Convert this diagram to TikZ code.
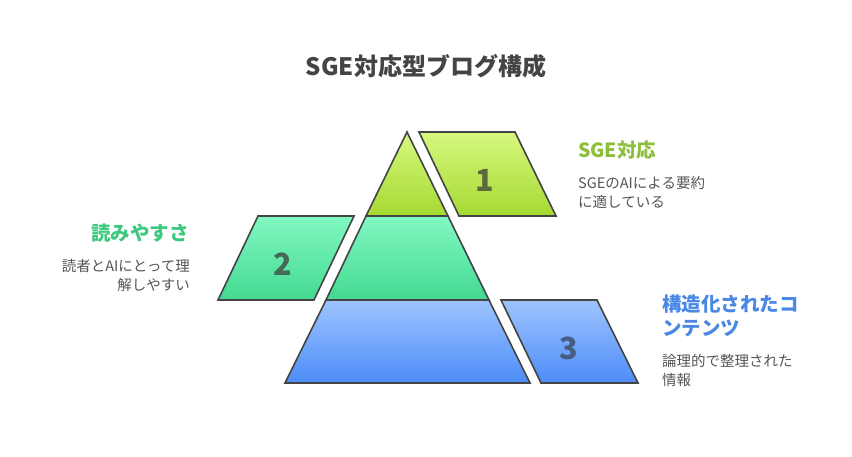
\documentclass[tikz,border=0pt]{standalone}
\usepackage{fontspec}
\setmainfont{Noto Sans CJK JP}
\definecolor{edge}{HTML}{444444}
\definecolor{ink}{HTML}{555555}
\definecolor{limeT}{HTML}{D6F87E}
\definecolor{limeB}{HTML}{A6D932}
\definecolor{mintT}{HTML}{82F8C2}
\definecolor{mintB}{HTML}{43D991}
\definecolor{skyT}{HTML}{9EC4FF}
\definecolor{skyB}{HTML}{4D8CF8}
\definecolor{limeText}{HTML}{8DBE3C}
\definecolor{mintText}{HTML}{3CC97F}
\definecolor{skyText}{HTML}{4A88E6}
\begin{document}
\begin{tikzpicture}[x=1pt, y=-1pt,
	tier/.style={draw=edge, line width=1.6pt},
	num/.style={font=\bfseries\fontsize{30.5}{30.5}\selectfont, inner sep=0pt},
	head/.style={font=\bfseries\fontsize{19.5}{23.5}\selectfont, inner sep=0pt},
	body/.style={font=\fontsize{14.5}{19}\selectfont, text=ink, inner sep=0pt}]
	\useasboundingbox[fill=white] (0,0) rectangle (852,456);
	\node[font=\bfseries\fontsize{24}{24}\selectfont, text=edge] (title) at (426,66) {SGE対応型ブログ構成};
	% pyramid
	\draw[tier, top color=limeT, bottom color=limeB] (407,132) -- (448,216) -- (366,216) -- cycle;
	\draw[tier, top color=mintT, bottom color=mintB] (366,216) -- (448,216) -- (489,300) -- (326,300) -- cycle;
	\draw[tier, top color=skyT, bottom color=skyB] (326,300) -- (489,300) -- (530,383) -- (285,383) -- cycle;
	% side tabs
	\draw[tier, top color=limeT, bottom color=limeB] (419,132) -- (515,132) -- (556,216) -- (459,216) -- cycle;
	\draw[tier, top color=mintT, bottom color=mintB] (258,216) -- (354,216) -- (314,300) -- (218,300) -- cycle;
	\draw[tier, top color=skyT, bottom color=skyB] (501,300) -- (597,300) -- (638,383) -- (541,383) -- cycle;
	\node[num, text=edge!75!limeB] (n1) at (485,180) {1};
	\node[num, text=edge!75!mintB] (n2) at (283,264) {2};
	\node[num, text=edge!65!skyB] (n3) at (569,348) {3};
	% labels
	\node[head, text=limeText, anchor=north west] (h1) at (578,141) {SGE対応};
	\node[body, anchor=north west, align=left] (t1) at (578,176) {SGEのAIによる要約\\に適している};
	\node[head, text=mintText, anchor=north east] (h2) at (189,224) {読みやすさ};
	\node[body, anchor=north east, align=right] (t2) at (190,259) {読者とAIにとって理\\解しやすい};
	\node[head, text=skyText, anchor=north west, align=left] (h3) at (662,295) {構造化されたコ\\ンテンツ};
	\node[body, anchor=north west, align=left] (t3) at (662,354) {論理的で整理された\\情報};
\end{tikzpicture}
\end{document}
